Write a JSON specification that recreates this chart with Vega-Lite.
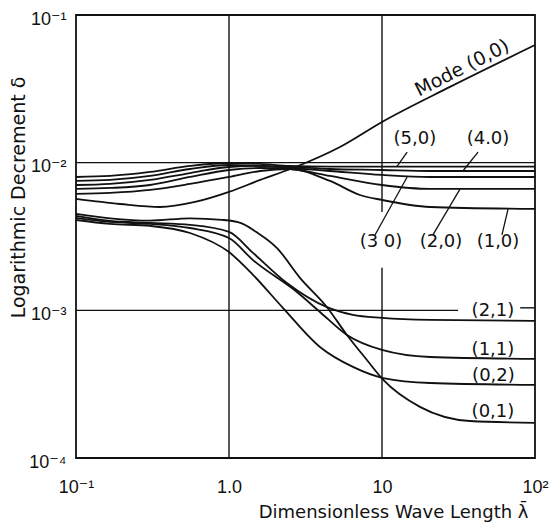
{
  "$schema": "https://vega.github.io/schema/vega-lite/v6.json",
  "width": 459,
  "height": 443,
  "autosize": {"type": "none"},
  "padding": {"left": 76, "top": 15, "right": 25, "bottom": 71},
  "background": "white",
  "config": {"view": {"stroke": "#111", "strokeWidth": 1.8}, "font": "DejaVu Sans"},
  "datasets": {
    "grid": [
      {"x": 0.1, "x2": 100, "y": 0.01, "y2": 0.01},
      {"x": 0.1, "x2": 31.4, "y": 0.001, "y2": 0.001},
      {"x": 80, "x2": 100, "y": 0.00104, "y2": 0.00104},
      {"x": 1, "x2": 1, "y": 0.0001, "y2": 0.1},
      {"x": 10, "x2": 10, "y": 0.0001, "y2": 0.00194},
      {"x": 10, "x2": 10, "y": 0.00463, "y2": 0.1}
    ],
    "curves": [
      {"m": "(5,0)", "x": 0.1, "y": 0.0080},
      {"m": "(5,0)", "x": 0.167, "y": 0.00813},
      {"m": "(5,0)", "x": 0.305, "y": 0.00865},
      {"m": "(5,0)", "x": 0.556, "y": 0.0095},
      {"m": "(5,0)", "x": 1.0, "y": 0.00995},
      {"m": "(5,0)", "x": 1.6, "y": 0.0098},
      {"m": "(5,0)", "x": 2.51, "y": 0.0095},
      {"m": "(5,0)", "x": 4.57, "y": 0.0094},
      {"m": "(5,0)", "x": 10, "y": 0.0094},
      {"m": "(5,0)", "x": 20.6, "y": 0.0094},
      {"m": "(5,0)", "x": 100, "y": 0.0094},
      {"m": "(4,0)", "x": 0.1, "y": 0.00752},
      {"m": "(4,0)", "x": 0.167, "y": 0.00764},
      {"m": "(4,0)", "x": 0.305, "y": 0.00813},
      {"m": "(4,0)", "x": 0.556, "y": 0.00906},
      {"m": "(4,0)", "x": 1.0, "y": 0.00964},
      {"m": "(4,0)", "x": 1.6, "y": 0.0095},
      {"m": "(4,0)", "x": 2.51, "y": 0.00935},
      {"m": "(4,0)", "x": 4.57, "y": 0.00906},
      {"m": "(4,0)", "x": 10, "y": 0.00892},
      {"m": "(4,0)", "x": 20.6, "y": 0.00878},
      {"m": "(4,0)", "x": 100, "y": 0.00878},
      {"m": "(3,0)", "x": 0.1, "y": 0.00706},
      {"m": "(3,0)", "x": 0.167, "y": 0.00718},
      {"m": "(3,0)", "x": 0.305, "y": 0.00764},
      {"m": "(3,0)", "x": 0.556, "y": 0.00851},
      {"m": "(3,0)", "x": 1.0, "y": 0.00935},
      {"m": "(3,0)", "x": 1.6, "y": 0.0095},
      {"m": "(3,0)", "x": 2.51, "y": 0.0092},
      {"m": "(3,0)", "x": 4.57, "y": 0.00878},
      {"m": "(3,0)", "x": 10, "y": 0.00826},
      {"m": "(3,0)", "x": 20.6, "y": 0.0080},
      {"m": "(3,0)", "x": 100, "y": 0.0080},
      {"m": "(2,0)", "x": 0.1, "y": 0.00664},
      {"m": "(2,0)", "x": 0.167, "y": 0.00674},
      {"m": "(2,0)", "x": 0.305, "y": 0.00706},
      {"m": "(2,0)", "x": 0.556, "y": 0.0080},
      {"m": "(2,0)", "x": 1.0, "y": 0.00892},
      {"m": "(2,0)", "x": 1.6, "y": 0.0092},
      {"m": "(2,0)", "x": 2.51, "y": 0.00906},
      {"m": "(2,0)", "x": 4.57, "y": 0.00813},
      {"m": "(2,0)", "x": 10, "y": 0.00706},
      {"m": "(2,0)", "x": 20.6, "y": 0.00664},
      {"m": "(2,0)", "x": 100, "y": 0.00664},
      {"m": "(1,0)", "x": 0.1, "y": 0.00614},
      {"m": "(1,0)", "x": 0.167, "y": 0.00624},
      {"m": "(1,0)", "x": 0.305, "y": 0.00654},
      {"m": "(1,0)", "x": 0.556, "y": 0.00718},
      {"m": "(1,0)", "x": 1.0, "y": 0.0080},
      {"m": "(1,0)", "x": 1.6, "y": 0.00878},
      {"m": "(1,0)", "x": 2.51, "y": 0.00906},
      {"m": "(1,0)", "x": 4.57, "y": 0.00752},
      {"m": "(1,0)", "x": 7.18, "y": 0.00604},
      {"m": "(1,0)", "x": 10, "y": 0.00559},
      {"m": "(1,0)", "x": 20.6, "y": 0.00501},
      {"m": "(1,0)", "x": 100, "y": 0.00486},
      {"m": "(0,0)", "x": 0.1, "y": 0.00568},
      {"m": "(0,0)", "x": 0.194, "y": 0.00525},
      {"m": "(0,0)", "x": 0.354, "y": 0.00501},
      {"m": "(0,0)", "x": 0.6, "y": 0.00542},
      {"m": "(0,0)", "x": 1.0, "y": 0.00634},
      {"m": "(0,0)", "x": 1.6, "y": 0.00764},
      {"m": "(0,0)", "x": 2.62, "y": 0.0092},
      {"m": "(0,0)", "x": 5.31, "y": 0.01277},
      {"m": "(0,0)", "x": 10, "y": 0.01888},
      {"m": "(0,0)", "x": 27.8, "y": 0.0326},
      {"m": "(0,0)", "x": 100, "y": 0.0626},
      {"m": "(0,1)", "x": 0.1, "y": 0.0045},
      {"m": "(0,1)", "x": 0.167, "y": 0.0042},
      {"m": "(0,1)", "x": 0.305, "y": 0.00405},
      {"m": "(0,1)", "x": 0.556, "y": 0.0042},
      {"m": "(0,1)", "x": 0.9, "y": 0.0041},
      {"m": "(0,1)", "x": 1.2, "y": 0.0039},
      {"m": "(0,1)", "x": 1.5, "y": 0.0034},
      {"m": "(0,1)", "x": 2.06, "y": 0.00264},
      {"m": "(0,1)", "x": 2.91, "y": 0.00166},
      {"m": "(0,1)", "x": 4.37, "y": 0.00105},
      {"m": "(0,1)", "x": 5.9, "y": 0.000681},
      {"m": "(0,1)", "x": 7.97, "y": 0.000461},
      {"m": "(0,1)", "x": 10.2, "y": 0.000338},
      {"m": "(0,1)", "x": 17.7, "y": 0.000222},
      {"m": "(0,1)", "x": 37.6, "y": 0.000178},
      {"m": "(0,1)", "x": 100, "y": 0.000173},
      {"m": "(2,1)", "x": 0.1, "y": 0.00436},
      {"m": "(2,1)", "x": 0.167, "y": 0.00403},
      {"m": "(2,1)", "x": 0.305, "y": 0.00391},
      {"m": "(2,1)", "x": 0.556, "y": 0.00379},
      {"m": "(2,1)", "x": 1.0, "y": 0.0034},
      {"m": "(2,1)", "x": 1.435, "y": 0.00245},
      {"m": "(2,1)", "x": 2.39, "y": 0.00153},
      {"m": "(2,1)", "x": 4.37, "y": 0.00105},
      {"m": "(2,1)", "x": 6.46, "y": 0.000931},
      {"m": "(2,1)", "x": 10, "y": 0.000889},
      {"m": "(2,1)", "x": 20.6, "y": 0.000861},
      {"m": "(2,1)", "x": 100, "y": 0.000848},
      {"m": "(1,1)", "x": 0.1, "y": 0.00423},
      {"m": "(1,1)", "x": 0.167, "y": 0.00397},
      {"m": "(1,1)", "x": 0.305, "y": 0.00385},
      {"m": "(1,1)", "x": 0.556, "y": 0.00361},
      {"m": "(1,1)", "x": 1.0, "y": 0.00309},
      {"m": "(1,1)", "x": 1.435, "y": 0.00219},
      {"m": "(1,1)", "x": 2.78, "y": 0.00133},
      {"m": "(1,1)", "x": 3.93, "y": 0.000975},
      {"m": "(1,1)", "x": 5.9, "y": 0.000681},
      {"m": "(1,1)", "x": 10, "y": 0.000539},
      {"m": "(1,1)", "x": 20.6, "y": 0.000483},
      {"m": "(1,1)", "x": 100, "y": 0.000469},
      {"m": "(0,2)", "x": 0.1, "y": 0.00409},
      {"m": "(0,2)", "x": 0.167, "y": 0.00385},
      {"m": "(0,2)", "x": 0.305, "y": 0.00373},
      {"m": "(0,2)", "x": 0.556, "y": 0.00334},
      {"m": "(0,2)", "x": 1.0, "y": 0.00248},
      {"m": "(0,2)", "x": 1.435, "y": 0.00174},
      {"m": "(0,2)", "x": 2.25, "y": 0.00104},
      {"m": "(0,2)", "x": 3.93, "y": 0.000565},
      {"m": "(0,2)", "x": 6.46, "y": 0.000414},
      {"m": "(0,2)", "x": 10.2, "y": 0.000348},
      {"m": "(0,2)", "x": 20.6, "y": 0.000322},
      {"m": "(0,2)", "x": 100, "y": 0.000313}
    ],
    "leaders": [
      {"x": 14.6, "y": 0.0118, "x2": 12.5, "y2": 0.0094},
      {"x": 42.4, "y": 0.0118, "x2": 33.8, "y2": 0.00878},
      {"x": 9.0, "y": 0.00324, "x2": 14.6, "y2": 0.0080},
      {"x": 21.5, "y": 0.00324, "x2": 32.4, "y2": 0.00664},
      {"x": 60.8, "y": 0.00324, "x2": 66.7, "y2": 0.00486}
    ],
    "labels": [
      {"label": "(5,0)", "x": 16.4, "y": 0.01447},
      {"label": "(4.0)", "x": 49.3, "y": 0.01447},
      {"label": "(3 0)", "x": 9.85, "y": 0.0029},
      {"label": "(2,0)", "x": 24.3, "y": 0.0029},
      {"label": "(1,0)", "x": 57.3, "y": 0.0029},
      {"label": "(2,1)", "x": 53.1, "y": 0.000991},
      {"label": "(1,1)", "x": 53.1, "y": 0.000539},
      {"label": "(0,2)", "x": 53.5, "y": 0.00036},
      {"label": "(0,1)", "x": 53.1, "y": 0.000205}
    ],
    "modelabel": [
      {"label": "Mode (0,0)", "x": 33.4, "y": 0.0438}
    ]
  },
  "encoding": {
    "x": {
      "field": "x", "type": "quantitative",
      "scale": {"type": "log", "domain": [0.1, 100], "nice": false, "zero": false},
      "axis": {
        "values": [0.1, 1, 10, 100],
        "labelExpr": "datum.value < 0.5 ? '10⁻¹' : datum.value < 5 ? '1.0' : datum.value < 50 ? '10' : '10²'",
        "ticks": false, "domain": false, "grid": false,
        "labelFont": "Liberation Sans, DejaVu Sans", "labelFontSize": 18, "labelPadding": 20,
        "labelColor": "#111", "labelFlush": false, "labelOverlap": false,
        "title": "Dimensionless Wave Length λ̄",
        "titleFont": "DejaVu Sans", "titleFontSize": 18, "titleFontWeight": "normal",
        "titleColor": "#111", "titleX": 452, "titleAlign": "right", "titleY": 59, "titleBaseline": "alphabetic"
      }
    },
    "y": {
      "field": "y", "type": "quantitative",
      "scale": {"type": "log", "domain": [0.0001, 0.1], "nice": false, "zero": false},
      "axis": {
        "values": [0.0001, 0.001, 0.01, 0.1],
        "labelExpr": "datum.value < 0.0005 ? '10⁻⁴' : datum.value < 0.005 ? '10⁻³' : datum.value < 0.05 ? '10⁻²' : '10⁻¹'",
        "ticks": false, "domain": false, "grid": false,
        "labelFont": "Liberation Sans, DejaVu Sans", "labelFontSize": 18, "labelPadding": 10,
        "labelOffset": 4, "labelColor": "#111", "labelFlush": false, "labelOverlap": false,
        "title": "Logarithmic Decrement δ",
        "titleFont": "DejaVu Sans", "titleFontSize": 19, "titleFontWeight": "normal",
        "titleColor": "#111", "titleX": -58, "titleY": 182, "titleAngle": 270,
        "titleAlign": "center", "titleBaseline": "middle"
      }
    }
  },
  "layer": [
    {
      "data": {"name": "grid"},
      "mark": {"type": "rule", "color": "#111", "strokeWidth": 1.4},
      "encoding": {"x2": {"field": "x2"}, "y2": {"field": "y2"}}
    },
    {
      "data": {"name": "curves"},
      "mark": {"type": "line", "interpolate": "monotone", "color": "#111", "strokeWidth": 1.8},
      "encoding": {"detail": {"field": "m"}}
    },
    {
      "data": {"name": "leaders"},
      "mark": {"type": "rule", "color": "#111", "strokeWidth": 1.3},
      "encoding": {"x2": {"field": "x2"}, "y2": {"field": "y2"}}
    },
    {
      "data": {"name": "labels"},
      "mark": {"type": "text", "font": "DejaVu Sans", "fontSize": 18, "color": "#111", "align": "center", "baseline": "middle"},
      "encoding": {"text": {"field": "label"}}
    },
    {
      "data": {"name": "modelabel"},
      "mark": {"type": "text", "font": "DejaVu Sans", "fontSize": 19, "color": "#111", "align": "center", "baseline": "middle", "angle": 333},
      "encoding": {"text": {"field": "label"}}
    }
  ]
}
